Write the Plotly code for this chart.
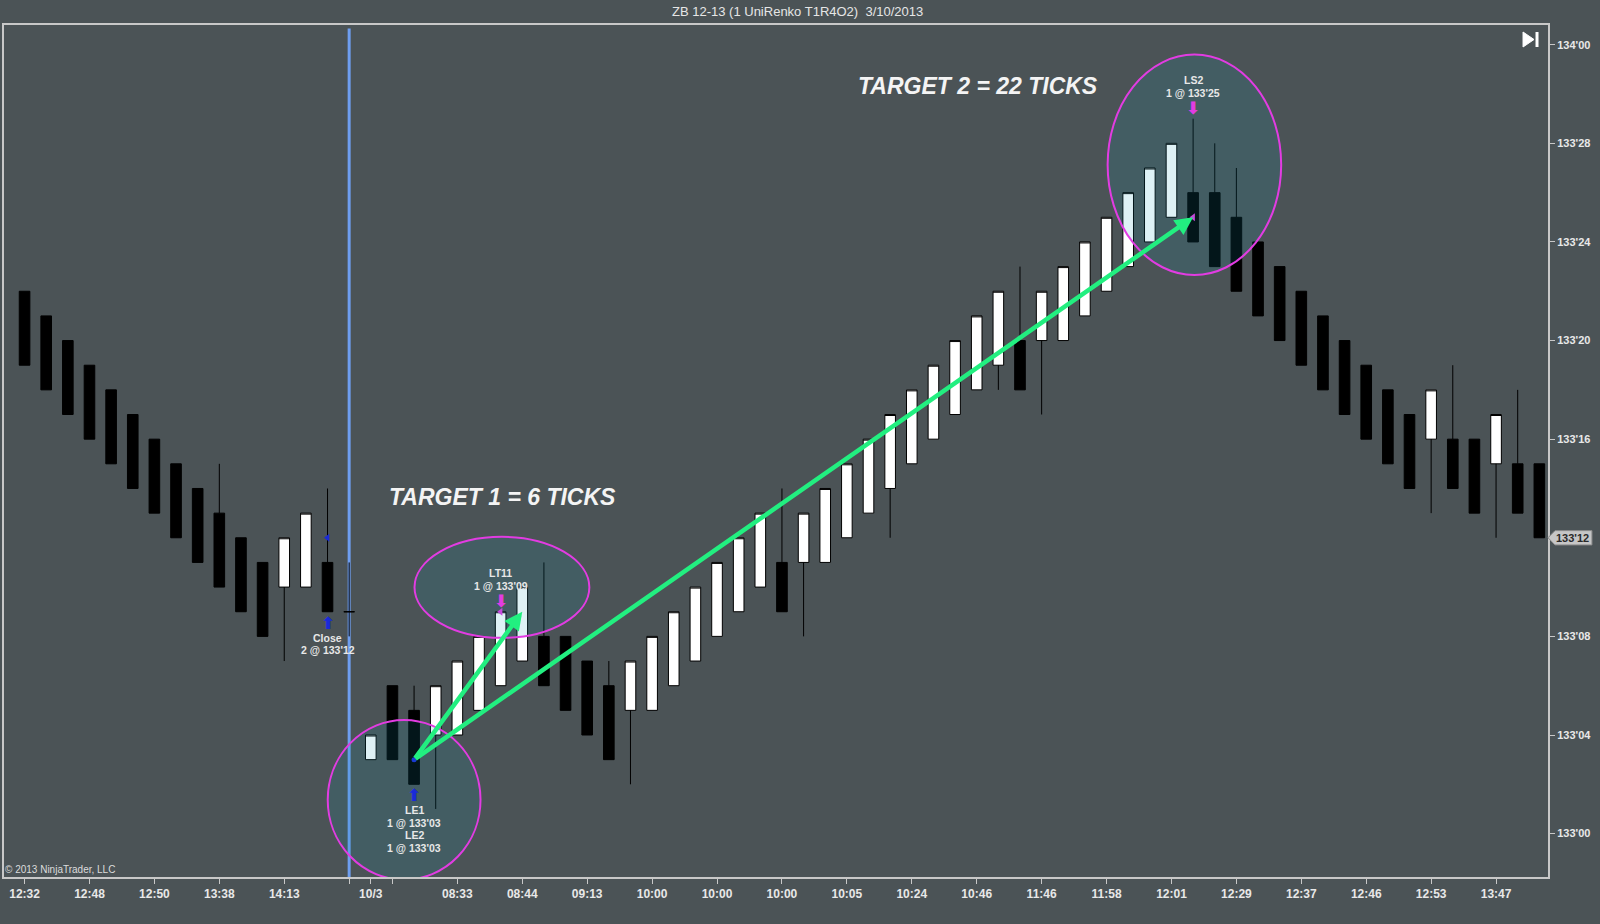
import plotly.graph_objects as go

# ---------------- data (prices in 32nds above 133'00) ----------------
bar_open  = [22, 21, 20, 19, 18, 17, 16, 15, 14, 13, 12, 11, 10, 10, 11, 9,
             3, 6, 5, 4, 4, 5, 6, 7, 8, 8, 7, 6, 5, 5, 6, 7, 8, 9, 10, 11,
             11, 11, 12, 13, 14, 15, 16, 17, 18, 19, 20, 20, 20, 21, 22, 23,
             24, 25, 26, 26, 25, 24, 23, 22, 21, 20, 19, 18, 17, 16, 16, 16,
             15, 15, 15]
bar_high  = [22, 21, 20, 19, 18, 17, 16, 15, 14, 15, 12, 11, 12, 13, 14, 11,
             4, 6, 6, 6, 7, 8, 9, 10, 11, 8, 7, 7, 7, 8, 9, 10, 11, 12, 13, 14,
             13, 14, 15, 16, 17, 18, 19, 20, 21, 22, 23, 22, 23, 24, 25, 26,
             27, 28, 29, 28, 27, 24, 23, 22, 21, 20, 19, 18, 17, 18, 19, 16,
             17, 18, 15]
bar_low   = [19, 18, 17, 16, 15, 14, 13, 12, 11, 10, 9, 8, 7, 10, 9, 8,
             3, 3, 2, 1, 4, 5, 6, 7, 6, 5, 4, 3, 2, 5, 6, 7, 8, 9, 10, 9,
             8, 11, 12, 13, 12, 15, 16, 17, 18, 18, 18, 17, 20, 21, 22, 23,
             24, 25, 24, 23, 22, 21, 20, 19, 18, 17, 16, 15, 14, 13, 14, 13,
             12, 13, 12]
bar_close = [19, 18, 17, 16, 15, 14, 13, 12, 11, 10, 9, 8, 12, 13, 9, 9,
             4, 3, 2, 6, 7, 8, 9, 10, 6, 5, 4, 3, 7, 8, 9, 10, 11, 12, 13, 9,
             13, 14, 15, 16, 17, 18, 19, 20, 21, 22, 18, 22, 23, 24, 25, 26,
             27, 28, 24, 23, 22, 21, 20, 19, 18, 17, 16, 15, 14, 18, 14, 13,
             17, 13, 12]
bar_index = list(range(len(bar_open)))

x_tick_pos = [0, 3, 6, 9, 12, 15, 16, 17, 20, 23, 26, 29, 32, 35, 38, 41, 44,
              47, 50, 53, 56, 59, 62, 65, 68]
x_tick_labels = ["12:32", "12:48", "12:50", "13:38", "14:13", "", "10/3", "",
                 "08:33", "08:44", "09:13", "10:00", "10:00", "10:00", "10:05",
                 "10:24", "10:46", "11:46", "11:58", "12:01", "12:29", "12:37",
                 "12:46", "12:53", "13:47"]
y_tick_pos = [0, 4, 8, 12, 16, 20, 24, 28, 32]
y_tick_labels = ["133'00", "133'04", "133'08", "133'12", "133'16", "133'20",
                 "133'24", "133'28", "134'00"]

session_break_bar = 15
last_price = 12
last_price_label = "133'12"

# trade executions
close_bar, close_price = 14, 12
close_lines = ["Close", "2 @ 133'12"]
entry_bar, entry_price = 18, 3
entry_lines = ["LE1", "1 @ 133'03", "LE2", "1 @ 133'03"]
t1_bar, t1_price = 22, 9
t1_lines = ["LT11", "1 @ 133'09"]
t2_bar, t2_price = 54, 25
t2_lines = ["LS2", "1 @ 133'25"]

target_texts = ["TARGET 1 = 6 TICKS", "TARGET 2 = 22 TICKS"]
title_text = "ZB 12-13 (1 UniRenko T1R4O2)  3/10/2013"
copyright_text = "\u00a9 2013 NinjaTrader, LLC"

# ---------------- styling ----------------
BG = "#4b5356"
AXIS = "#c8c8c8"
TXT = "#e8e8e8"
GREEN = "#22ef80"
MAG = "#e23ce2"
BLUE = "#1a2ad8"
FONT = "Liberation Sans, Arial, sans-serif"

W, H = 1600, 924
ML, MR, MT, MB = 2, 52, 25, 47
PW = W - ML - MR
PH = H - MT - MB


def px_x(px):
    return (px - ML) / PW


def px_y(py):
    return (H - MB - py) / PH


fig = go.Figure()

fig.add_trace(go.Candlestick(
    x=bar_index, open=bar_open, high=bar_high, low=bar_low, close=bar_close,
    increasing=dict(fillcolor="#ffffff", line=dict(color="#000000", width=1)),
    decreasing=dict(fillcolor="#000000", line=dict(color="#000000", width=1)),
    whiskerwidth=0, showlegend=False, hoverinfo="skip"))

# execution marks
fig.add_trace(go.Scatter(x=[close_bar], y=[close_price], mode="markers",
                         marker=dict(symbol="triangle-left", size=7, color=BLUE),
                         showlegend=False, hoverinfo="skip"))
fig.add_trace(go.Scatter(x=[entry_bar], y=[entry_price], mode="markers",
                         marker=dict(symbol="circle", size=5, color=BLUE),
                         showlegend=False, hoverinfo="skip"))
fig.add_trace(go.Scatter(x=[t1_bar, t2_bar], y=[t1_price, t2_price], mode="markers",
                         marker=dict(symbol="triangle-left", size=7, color=MAG),
                         showlegend=False, hoverinfo="skip"))

shapes = []
# session break
shapes.append(dict(type="line", xref="x", yref="paper", x0=session_break_bar,
                   x1=session_break_bar, y0=0, y1=px_y(28.5),
                   line=dict(color="#6e9ef0", width=3), layer="below"))


def ellipse(cx, cy, rx, ry):
    return dict(type="circle", xref="x", yref="y", x0=cx - rx, x1=cx + rx,
                y0=cy - ry, y1=cy + ry, line=dict(color=MAG, width=2),
                fillcolor="rgba(23,154,185,0.14)", layer="above")


shapes.append(ellipse(entry_bar - 0.46, entry_price - 1.63, 3.53, 3.24))
shapes.append(ellipse(t1_bar + 0.06, t1_price + 0.99, 4.04, 2.05))
shapes.append(ellipse(t2_bar + 0.06, t2_price + 2.13, 4.01, 4.47))

# last price tag
tk = 0.29
shapes.append(dict(type="path", xref="paper", yref="y",
                   path=(f"M {px_x(1548)} {last_price} L {px_x(1555)} {last_price + tk} "
                         f"L {px_x(1592)} {last_price + tk} L {px_x(1592)} {last_price - tk} "
                         f"L {px_x(1555)} {last_price - tk} Z"),
                   fillcolor="#c6c6c6", line=dict(color="#8c8c8c", width=1), layer="above"))
# "go to end" icon
shapes.append(dict(type="path", xref="paper", yref="paper",
                   path=(f"M {px_x(1523)} {px_y(32)} L {px_x(1534)} {px_y(39.5)} "
                         f"L {px_x(1523)} {px_y(47)} Z"),
                   fillcolor="#ffffff", line=dict(color="#ffffff", width=1), layer="above"))
shapes.append(dict(type="rect", xref="paper", yref="paper",
                   x0=px_x(1535.5), x1=px_x(1538.5), y0=px_y(47), y1=px_y(32),
                   fillcolor="#ffffff", line=dict(color="#ffffff", width=0), layer="above"))

ann = []
# green arrows
for tip_bar, tip_price in [(t1_bar + 1, t1_price), (t2_bar, t2_price)]:
    ann.append(dict(x=tip_bar, y=tip_price, ax=entry_bar, ay=entry_price,
                    xref="x", yref="y", axref="x", ayref="y", text="",
                    showarrow=True, arrowhead=2, arrowsize=0.8, arrowwidth=4.5,
                    arrowcolor=GREEN, standoff=0, startstandoff=0))

lblfont = dict(family=FONT, size=10.5, color=TXT)


def label_block(bar, anchor_price, lines, below, arrow_color):
    sign = -1 if below else 1
    arrow = "\u2b06" if below else "\u2b07"
    ann.append(dict(x=bar, y=anchor_price, xref="x", yref="y", text="<b>" + arrow + "</b>",
                    showarrow=False, yanchor="middle", xanchor="center",
                    yshift=sign * 11,
                    font=dict(family="DejaVu Sans", size=17, color=arrow_color)))
    for k, line in enumerate(lines):
        off = 26 + 12.5 * k
        ann.append(dict(x=bar, y=anchor_price, xref="x", yref="y",
                        text="<b>" + line + "</b>", showarrow=False, xanchor="center",
                        yanchor="middle", yshift=sign * off, font=lblfont))


label_block(close_bar, bar_low[close_bar], close_lines, True, BLUE)
label_block(entry_bar, bar_low[entry_bar], entry_lines, True, BLUE)
label_block(t1_bar, bar_high[t1_bar], list(reversed(t1_lines)), False, MAG)
label_block(t2_bar, bar_high[t2_bar], list(reversed(t2_lines)), False, MAG)

# target texts
tfont = dict(family=FONT, size=23, color="#f4f4f4")
ann.append(dict(x=t1_bar + 0.08, y=t1_price + 4.66, xref="x", yref="y", xanchor="center",
                text="<b><i>" + target_texts[0] + "</i></b>", showarrow=False, font=tfont))
ann.append(dict(x=t2_bar - 9.95, y=t2_price + 5.33, xref="x", yref="y", xanchor="center",
                text="<b><i>" + target_texts[1] + "</i></b>", showarrow=False, font=tfont))

# title
ann.append(dict(x=0.5, y=1, xref="paper", yref="paper", xshift=21, yshift=14,
                xanchor="center", yanchor="middle", text=title_text, showarrow=False,
                font=dict(family=FONT, size=13, color="#e6e6e6")))
# copyright
ann.append(dict(x=0, y=0, xref="paper", yref="paper", xanchor="left",
                yanchor="bottom", xshift=-1, yshift=0, text=copyright_text,
                showarrow=False, font=dict(family=FONT, size=10, color="#dcdcdc")))
# last price label (the tag replaces the axis label at that level)
ann.append(dict(x=px_x(1573), y=last_price, xref="paper", yref="y",
                xanchor="center", yanchor="middle",
                text="<b>" + last_price_label + "</b>", showarrow=False,
                font=dict(family=FONT, size=11, color="#2a2a2a")))

y_tick_text = ["" if v == last_price else "<b>" + t + "</b>"
               for v, t in zip(y_tick_pos, y_tick_labels)]

fig.update_layout(
    width=W, height=H,
    margin=dict(l=ML, r=MR, t=MT, b=MB, pad=0),
    paper_bgcolor=BG, plot_bgcolor=BG,
    shapes=shapes, annotations=ann,
    showlegend=False,
    xaxis=dict(range=[-0.95, 70.4], tickvals=x_tick_pos,
               ticktext=["<b>" + t + "</b>" if t else "" for t in x_tick_labels],
               showgrid=False, zeroline=False, showline=True, linecolor=AXIS,
               linewidth=2, mirror=True, ticks="outside", ticklen=5,
               tickcolor=AXIS, tickfont=dict(family=FONT, size=12, color=TXT),
               rangeslider=dict(visible=False), fixedrange=True),
    yaxis=dict(range=[-1.76, 32.8], side="right", tickvals=y_tick_pos,
               ticktext=y_tick_text,
               showgrid=False, zeroline=False, showline=True, linecolor=AXIS,
               linewidth=2, mirror=True, ticks="outside", ticklen=5,
               tickcolor=AXIS, tickfont=dict(family=FONT, size=11, color=TXT),
               fixedrange=True),
)

fig.write_html("out.html", config={"displayModeBar": False},
               post_script="document.body.style.margin='0';document.body.style.background='" + BG + "';")
